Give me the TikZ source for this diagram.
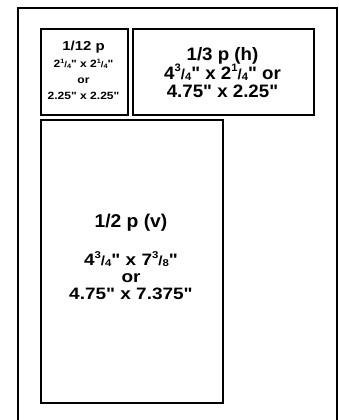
\documentclass[tikz,border=0pt]{standalone}
\usepackage{fontspec}
\setmainfont{Liberation Sans}
\newfontfamily\adnorm[Ligatures=TeXOff, FakeStretch=1.04]{Liberation Sans}
\newfontfamily\adwide[Ligatures=TeXOff, FakeStretch=1.15]{Liberation Sans}
\usetikzlibrary{positioning}
\newcommand{\fr}[2]{\raisebox{0.42em}{\scalebox{0.6}{#1}}\scalebox{0.8}{/}\raisebox{-0.08em}{\scalebox{0.6}{#2}}}
\newcommand{\inch}{"}
\tikzset{
  pagebox/.style={draw, line width=1.6pt, anchor=north west, minimum width=319pt, minimum height=440pt, inner sep=0pt},
  adbox/.style={draw, line width=1.6pt, anchor=north west, inner sep=0pt},
  sizetext/.style={anchor=base, inner sep=0pt}
}
\begin{document}
\begin{tikzpicture}[x=1pt, y=-1pt]
  \useasboundingbox (0,0) rectangle (339,420);
  \clip (0,0) rectangle (339,420);
  \fill[white] (0,0) rectangle (339,420);
  % page outline, runs off the bottom
  \node[pagebox] (page) at (17,7) {};
  % ad sizes
  \node[adbox, minimum width=87pt, minimum height=86pt] (twelfth) at (40,28) {};
  \node[adbox, minimum width=181pt, minimum height=86pt] (third) at (132,28) {};
  \node[adbox, minimum width=182pt, minimum height=283pt] (half) at (40,119) {};
  % 1/12 page
  \node[sizetext, font=\adwide\bfseries\fontsize{13}{15}\selectfont] (twelfthA) at (83.5,51) {1/12 p};
  \node[sizetext, font=\adwide\bfseries\fontsize{10.5}{12}\selectfont] (twelfthB) at (83.5,67.5) {2\fr{1}{4}\inch{} x 2\fr{1}{4}\inch};
  \node[sizetext, font=\adwide\bfseries\fontsize{10.5}{12}\selectfont] (twelfthC) at (83.5,83) {or};
  \node[sizetext, font=\adwide\bfseries\fontsize{10.5}{12}\selectfont] (twelfthD) at (83.5,99.5) {2.25\inch{} x 2.25\inch};
  % 1/3 page
  \node[sizetext, font=\adnorm\bfseries\fontsize{18}{20}\selectfont] (thirdA) at (222.5,60) {1/3 p (h)};
  \node[sizetext, font=\adnorm\bfseries\fontsize{18}{20}\selectfont] (thirdB) at (222.5,79.3) {4\fr{3}{4}\inch{} x 2\fr{1}{4}\inch{} or};
  \node[sizetext, font=\adnorm\bfseries\fontsize{18}{20}\selectfont] (thirdC) at (222.5,97.5) {4.75\inch{} x 2.25\inch};
  % 1/2 page
  \node[sizetext, font=\adnorm\bfseries\fontsize{18.5}{20}\selectfont] (halfA) at (131,227) {1/2 p (v)};
  \node[sizetext, font=\adwide\bfseries\fontsize{16.5}{18}\selectfont] (halfB) at (131,265) {4\fr{3}{4}\inch{} x 7\fr{3}{8}\inch};
  \node[sizetext, font=\adwide\bfseries\fontsize{16.5}{18}\selectfont] (halfC) at (131,282) {or};
  \node[sizetext, font=\adwide\bfseries\fontsize{16.5}{18}\selectfont] (halfD) at (131,299) {4.75\inch{} x 7.375\inch};
\end{tikzpicture}
\end{document}
